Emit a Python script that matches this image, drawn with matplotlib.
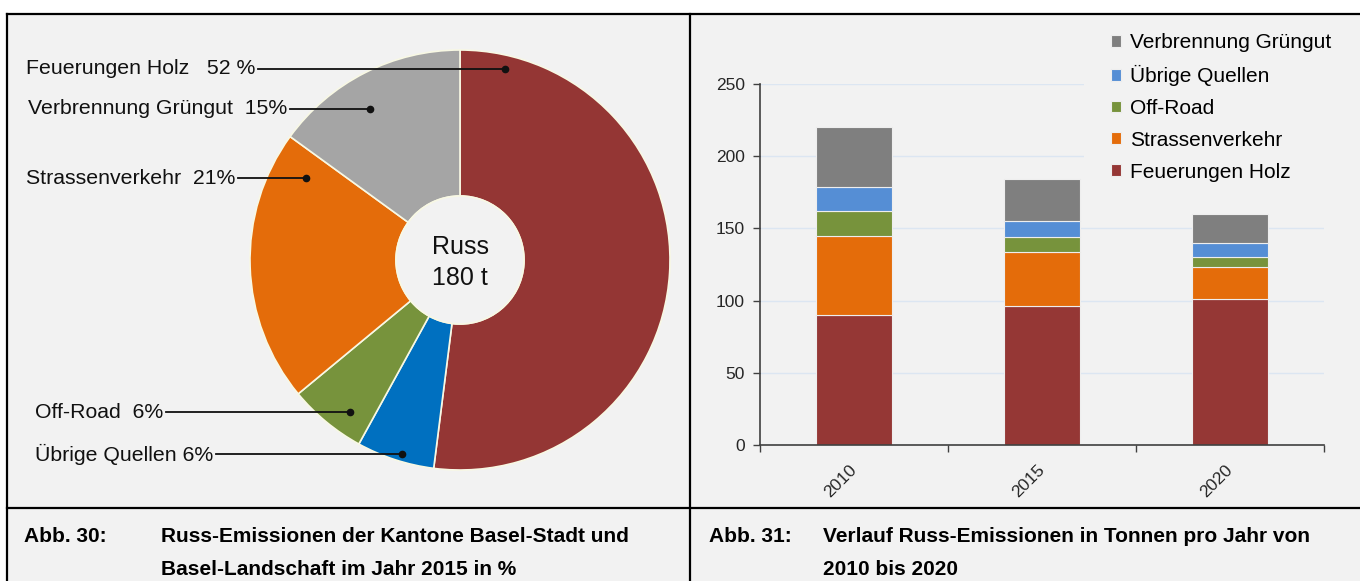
import matplotlib
matplotlib.use('Agg')
import matplotlib.pyplot as plt
import matplotlib.patches as patches
import numpy as np

plt.rcParams['font.family'] = ['Liberation Sans', 'DejaVu Sans']

# ----------------------------------------------------------------------
# Daten
# ----------------------------------------------------------------------
pie_names = ['Feuerungen Holz', 'Übrige Quellen', 'Off-Road', 'Strassenverkehr', 'Verbrennung Grüngut']
pie_pct = [52, 6, 6, 21, 15]
pie_texts = ['Feuerungen Holz   52 %', 'Übrige Quellen 6%', 'Off-Road  6%',
             'Strassenverkehr  21%', 'Verbrennung Grüngut  15%']
pie_colors = ['#943634', '#0070c0', '#77933c', '#e46c0a', '#a5a5a5']
pie_center_text = ['Russ', '180 t']

years = ['2010', '2015', '2020']
holz = [90, 96, 101]
strassen = [55, 38, 22]
offroad = [17, 10, 7]
uebrige = [17, 11, 10]
gruengut = [41, 29, 20]
bar_series = [
    ('Feuerungen Holz', holz, '#953735'),
    ('Strassenverkehr', strassen, '#e46c0a'),
    ('Off-Road', offroad, '#77933c'),
    ('Übrige Quellen', uebrige, '#558ed5'),
    ('Verbrennung Grüngut', gruengut, '#7f7f7f'),
]
yticks = [0, 50, 100, 150, 200, 250]

caption_left = ('Abb. 30:', 'Russ-Emissionen der Kantone Basel-Stadt und\nBasel-Landschaft im Jahr 2015 in %')
caption_right = ('Abb. 31:', 'Verlauf Russ-Emissionen in Tonnen pro Jahr von\n2010 bis 2020')

# ----------------------------------------------------------------------
# Layout (Pixel)
# ----------------------------------------------------------------------
W, H = 1360, 581
BG = '#f2f2f2'


def fig_rect(x0, y0, x1, y1):
    # Pixel-Box (oben links -> unten rechts) in Figure-Koordinaten
    return [x0 / W, 1 - y1 / H, (x1 - x0) / W, (y1 - y0) / H]


fig = plt.figure(figsize=(W / 100, H / 100), dpi=100, facecolor='white')

# Hintergrund
ax_bg = fig.add_axes([0, 0, 1, 1], zorder=-1)
ax_bg.set_xlim(0, W)
ax_bg.set_ylim(H, 0)
ax_bg.axis('off')
ax_bg.add_patch(patches.Rectangle((7, 13.5), W - 7, H - 13.5, facecolor=BG, edgecolor='none'))

# ----------------------------------------------------------------------
# Donut
# ----------------------------------------------------------------------
cx, cy, R = 460, 260, 210
hole = 64
ax_pie = fig.add_axes(fig_rect(cx - R, cy - R, cx + R, cy + R))
ax_pie.pie(pie_pct, colors=pie_colors, startangle=90, counterclock=False, radius=1,
           wedgeprops=dict(width=1 - hole / R, edgecolor='#f8f8e4', linewidth=1.2))
ax_pie.add_patch(patches.Circle((0, 0), hole / R, facecolor=BG, edgecolor='#f8f8e4', linewidth=1.2))
ax_pie.set_xlim(-1, 1)
ax_pie.set_ylim(-1, 1)
ax_pie.text(0, 0.062, pie_center_text[0], ha='center', va='center', fontsize=18, color='#111111')
ax_pie.text(0, -0.086, pie_center_text[1], ha='center', va='center', fontsize=18, color='#111111')

# ----------------------------------------------------------------------
# Balken
# ----------------------------------------------------------------------
ax_bar = fig.add_axes(fig_rect(760, 84, 1324, 445))
ax_bar.set_facecolor('none')
x = np.arange(len(years))
bottom = np.zeros(len(years))
handles = []
for name, vals, col in bar_series:
    b = ax_bar.bar(x, vals, width=0.4, bottom=bottom, color=col, edgecolor='#eeeeee',
                   linewidth=0.8, label=name, zorder=2)
    handles.append(b)
    bottom += np.array(vals)

ax_bar.set_xlim(-0.5, len(years) - 0.5)
ax_bar.set_ylim(0, 250)
ax_bar.set_yticks(yticks)
ax_bar.tick_params(axis='y', length=5, width=1, color='#404040', labelsize=12.5,
                   labelcolor='#262626', pad=6)
ax_bar.set_xticks(x)
ax_bar.set_xticklabels(years, rotation=45, ha='right', va='center', rotation_mode='anchor')
ax_bar.set_xticks(np.arange(-0.5, len(years), 1), minor=True)
ax_bar.tick_params(axis='x', which='major', length=0, labelsize=12.5, labelcolor='#262626', pad=16)
ax_bar.tick_params(axis='x', which='minor', length=5, width=1, color='#404040')
for s in ['top', 'right']:
    ax_bar.spines[s].set_visible(False)
for s in ['left', 'bottom']:
    ax_bar.spines[s].set_color('#404040')
    ax_bar.spines[s].set_linewidth(1.2)
ax_bar.set_axisbelow(True)
ax_bar.yaxis.grid(True, color='#dce6f2', linewidth=1.0)
ax_bar.spines['left'].set_zorder(3)

# Legendenhintergrund verdeckt Gitterlinien
ax_bar.add_patch(patches.Rectangle((1084 / W, 1 - 190 / H), (W - 1084) / W, (190 - 14) / H,
                                   transform=fig.transFigure, facecolor=BG, edgecolor='none',
                                   zorder=1, clip_on=False))

leg = ax_bar.legend(handles[::-1], [h.get_label() for h in handles[::-1]],
                    loc='upper left', bbox_to_anchor=(1111 / W, 1 - 33 / H),
                    bbox_transform=fig.transFigure, frameon=False, fontsize=15,
                    handlelength=0.5, handleheight=0.5, handletextpad=0.4,
                    labelspacing=0.62, borderpad=0, borderaxespad=0)

# ----------------------------------------------------------------------
# Overlay: Beschriftungen Donut, Rahmen, Bildunterschriften
# ----------------------------------------------------------------------
ax_ov = fig.add_axes([0, 0, 1, 1], zorder=10)
ax_ov.set_xlim(0, W)
ax_ov.set_ylim(H, 0)
ax_ov.axis('off')
ax_ov.patch.set_alpha(0)

# (Linienanfang x, y, Punkt x) je Segment
label_pos = [(258, 69, 505), (216, 454, 402), (166, 412, 350), (238, 178, 306), (290, 109, 370)]
for txt, (lx, ly, dx) in zip(pie_texts, label_pos):
    ax_ov.plot([lx, dx], [ly, ly], color='#111111', lw=1.3)
    ax_ov.plot(dx, ly, 'o', color='#111111', ms=4.5)
    ax_ov.text(lx - 3, ly, txt, ha='right', va='center', fontsize=15.3, color='#111111')

# Rahmenlinien
lw = 1.6
ax_ov.plot([7, W], [13.5, 13.5], color='black', lw=lw, solid_capstyle='projecting')
ax_ov.plot([7, 7], [13.5, H], color='black', lw=lw)
ax_ov.plot([690, 690], [13.5, H], color='black', lw=lw)
ax_ov.plot([7, W], [508, 508], color='black', lw=lw)

# Bildunterschriften
for (abb, txt), x0, x1 in [(caption_left, 24, 161), (caption_right, 709, 823)]:
    ax_ov.text(x0, 537, abb, ha='left', va='center', fontsize=15, fontweight='bold', color='black')
    ax_ov.text(x1, 553, txt, ha='left', va='center', fontsize=15, fontweight='bold',
               color='black', linespacing=1.9)

fig.savefig('out.png', dpi=100, facecolor='white')
